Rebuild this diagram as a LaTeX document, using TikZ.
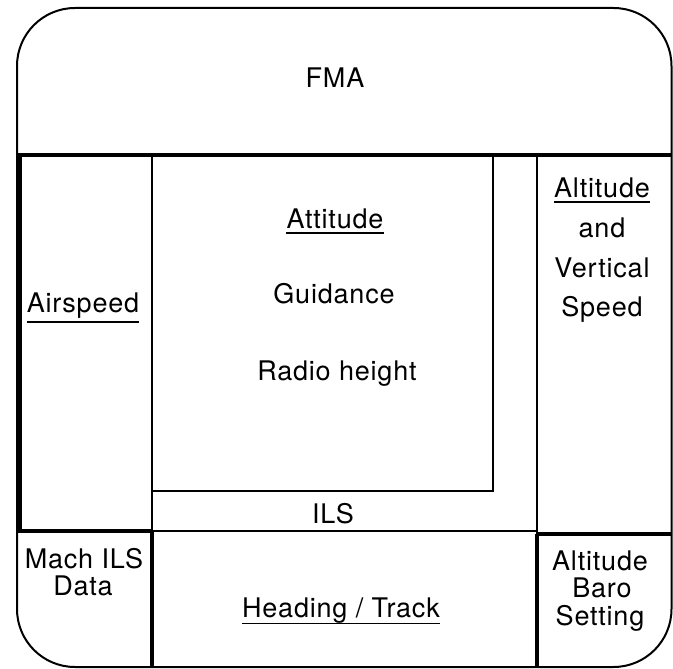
\documentclass[tikz,border=0pt]{standalone}
\usepackage{fontspec}
\newfontfamily\hv[LetterSpace=3]{TeX Gyre Heros}
\begin{document}
\begin{tikzpicture}[x=1pt,y=-1pt,
  frame/.style={line width=2pt},
  heavy/.style={line width=4.5pt},
  mid/.style={line width=2pt},
  light/.style={line width=1.6pt},
  uline/.style={line width=1.6pt},
  lbl/.style={font=\hv\fontsize{27}{29}\selectfont, inner sep=0pt, anchor=base}]
\useasboundingbox (0,0) rectangle (673,669);
% outer frame
\draw[frame, rounded corners=58pt] (17,8) rectangle (671.5,667);
% heavy dividers
\draw[heavy] (17,155) -- (671.5,155);
\draw[heavy] (19.5,155) -- (19.5,531);
\draw[heavy] (17,531) -- (152,531);
\draw[heavy] (152,531) -- (152,667);
\draw[heavy] (537,534) -- (671.5,534);
\draw[heavy] (537,534) -- (537,667);
% thin dividers
\draw[mid] (152,155) -- (152,531);
\draw[mid] (493,155) -- (493,491) -- (152,491);
\draw[light] (152,531) -- (537,531);
\draw[mid] (537,155) -- (537,534);
% labels
\node[lbl] (fma) at (335,88) {FMA};
\node[lbl] (att) at (335,228) {Attitude};
\node[lbl] (gui) at (334,303) {Guidance};
\node[lbl] (rad) at (337,380) {Radio height};
\node[lbl] (air) at (83,312) {Airspeed};
\node[lbl] (alt) at (602,197) {Altitude};
\node[lbl] (and) at (602,237) {and};
\node[lbl] (vert) at (602,277) {Vertical};
\node[lbl] (spd) at (602,316) {Speed};
\node[lbl] (ils) at (333,523) {ILS};
\node[lbl] (mach) at (84,568) {Mach ILS};
\node[lbl] (data) at (83,595) {Data};
\node[lbl] (hdg) at (341,617) {Heading / Track};
\node[lbl] (alt2) at (600,570) {Altitude};
\node[lbl] (baro) at (602,597) {Baro};
\node[lbl] (set) at (600,625) {Setting};
% underlines
\draw[uline] ([yshift=-5pt]att.base west) -- ([yshift=-5pt]att.base east);
\draw[uline] ([yshift=-5pt]alt.base west) -- ([yshift=-5pt]alt.base east);
\draw[uline] ([yshift=-10pt]air.base west) -- ([yshift=-10pt]air.base east);
\draw[uline] ([yshift=-6.5pt]hdg.base west) -- ([yshift=-6.5pt]hdg.base east);
\end{tikzpicture}
\end{document}
